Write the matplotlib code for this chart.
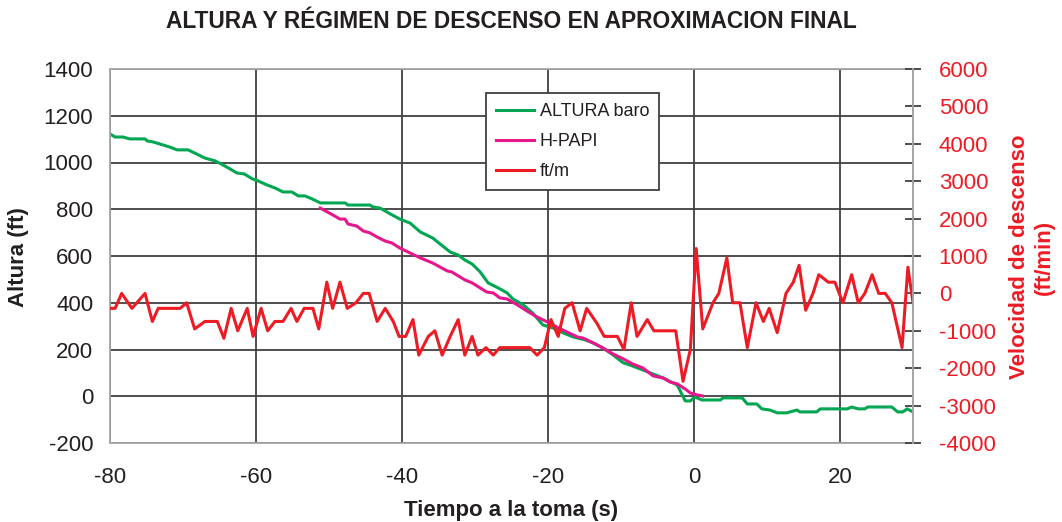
import matplotlib.pyplot as plt

# ALTURA baro (ft)
tiempo_alt = [-80, -79.3, -78.2, -77.3, -75.2, -74.9, -74.1, -71.8, -70.8, -69.3,
              -68.1, -67.0, -65.6, -64.8, -63.8, -62.6, -61.6, -60.5, -59.7, -58.5,
              -57.4, -56.3, -55.1, -54.2, -53.3, -52.3, -51.2, -47.8, -47.4, -44.4,
              -44.0, -43.0, -41.6, -40.3, -38.9, -37.5, -35.8, -33.4, -32.3, -31.4,
              -30.4, -29.3, -28.2, -26.8, -25.6, -24.8, -23.4, -22.1, -20.7, -19.3,
              -17.9, -16.6, -14.9, -13.8, -12.5, -11.1, -9.7, -8.8, -7.4, -6.0,
              -4.2, -2.3, -1.2, -0.5, 0.1, 1.1, 3.6, 4.0, 6.6, 7.3,
              8.6, 9.3, 10.4, 11.4, 12.7, 14.1, 14.5, 16.8, 17.3, 21.0,
              21.6, 22.5, 23.4, 23.8, 27.1, 27.9, 28.6, 29.2, 30.0]
altura_baro = [1122, 1109, 1109, 1101, 1101, 1092, 1088, 1066, 1054, 1054,
               1036, 1019, 1007, 994, 977, 955, 951, 930, 921, 904,
               891, 874, 874, 857, 857, 844, 827, 827, 818, 818,
               810, 805, 780, 758, 741, 703, 677, 617, 604, 583,
               566, 532, 485, 463, 442, 416, 391, 356, 305, 292,
               271, 254, 241, 228, 207, 177, 143, 134, 117, 100,
               78, 48, -20, -20, -3, -16, -16, -7, -7, -33,
               -33, -54, -59, -71, -71, -59, -67, -67, -54, -54,
               -46, -54, -54, -46, -46, -67, -67, -54, -67]

# H-PAPI (ft)
tiempo_papi = [-51.2, -49.5, -48.5, -47.8, -47.4, -46.2, -45.3, -44.4, -43.4, -42.3,
               -41.4, -40.3, -38.9, -37.5, -35.8, -33.8, -33.2, -31.4, -30.4, -28.4,
               -27.5, -26.6, -25.6, -24.2, -22.9, -21.5, -20.1, -18.8, -17.4, -16.0,
               -15.2, -13.8, -12.5, -11.1, -9.7, -8.4, -7.0, -5.6, -4.2, -3.3,
               -2.3, -1.2, -0.5, 0.4, 1.2]
h_papi = [805, 776, 758, 758, 737, 728, 707, 699, 681, 664,
          656, 634, 613, 592, 570, 536, 532, 498, 485, 446,
          442, 421, 416, 391, 365, 339, 318, 296, 275, 254,
          249, 228, 207, 181, 160, 138, 121, 87, 78, 61,
          53, 31, 14, 6, 1]

# ft/m (velocidad de descenso)
tiempo_vs = [-80, -79.3, -78.4, -77.0, -75.2, -74.2, -73.4, -70.4, -69.5, -68.4,
             -67.0, -65.3, -64.4, -63.4, -62.5, -61.2, -60.4, -59.3, -58.4, -57.4,
             -56.3, -55.2, -54.4, -53.4, -52.2, -51.4, -50.3, -49.5, -48.5, -47.5,
             -46.3, -45.3, -44.5, -43.4, -42.3, -41.2, -40.4, -39.5, -38.5, -37.7,
             -36.4, -35.5, -34.5, -33.4, -32.3, -31.4, -30.4, -29.6, -28.5, -27.5,
             -26.6, -22.5, -21.5, -20.5, -19.6, -18.6, -17.7, -16.7, -15.6, -14.7,
             -13.3, -12.3, -10.5, -9.6, -8.6, -7.8, -6.4, -5.5, -2.5, -1.5,
             -0.5, 0.3, 1.2, 2.6, 3.4, 4.5, 5.3, 6.3, 7.3, 8.5,
             9.5, 10.3, 11.4, 12.6, 13.6, 14.4, 15.3, 16.3, 17.1, 18.4,
             19.3, 20.4, 21.6, 22.5, 23.4, 24.4, 25.3, 26.2, 27.1, 28.5,
             29.3, 30.0]
vel_descenso = [-400, -400, 0, -400, 0, -750, -400, -400, -250, -950,
                -750, -750, -1200, -400, -1000, -400, -1150, -400, -1000, -750,
                -750, -400, -750, -400, -400, -950, 300, -400, 300, -400,
                -250, 0, 0, -750, -400, -750, -1150, -1150, -700, -1650,
                -1150, -1000, -1650, -1150, -700, -1650, -1150, -1650, -1450, -1650,
                -1450, -1450, -1650, -1450, -700, -1150, -400, -250, -1000, -400,
                -800, -1150, -1150, -1500, -250, -1150, -700, -1000, -1000, -2350,
                -1500, 1200, -950, -250, 0, 950, -250, -250, -1450, -250,
                -750, -400, -1050, 0, 300, 750, -450, 0, 500, 300,
                300, -250, 500, -250, 0, 500, 0, 0, -250, -1450,
                700, -250]

verde = '#00a651'
rosa = '#e6168c'
rojo = '#ed1c24'
gris = '#a6a6a6'
oscuro = '#404040'
texto = '#231f20'

plt.rcParams['font.family'] = ['Liberation Sans', 'DejaVu Sans']
plt.rcParams['axes.unicode_minus'] = False

fig = plt.figure(figsize=(10.62, 5.22), dpi=100)
ax = fig.add_axes([110 / 1062, 1 - 443 / 522, 803 / 1062, 374 / 522])
ax2 = ax.twinx()

l1, = ax.plot(tiempo_alt, altura_baro, color=verde, lw=2.2, label='ALTURA baro')
l2, = ax.plot(tiempo_papi, h_papi, color=rosa, lw=2.2, label='H-PAPI')
l3, = ax2.plot(tiempo_vs, vel_descenso, color=rojo, lw=2.2, label='ft/m')

ax.set_xlim(-80, 30)
ax.set_ylim(-200, 1400)
ax2.set_ylim(-4000, 6000)
ax.set_xticks(range(-80, 21, 20))
ax.set_yticks(range(-200, 1401, 200))
ax2.set_yticks(range(-4000, 6001, 1000))

ax.grid(True, color=oscuro, lw=1.3)
ax.set_axisbelow(True)

for s in ax.spines.values():
    s.set_color(gris)
    s.set_linewidth(1.3)
for s in ax2.spines.values():
    s.set_visible(False)
ax2.spines['right'].set_visible(True)
ax2.spines['right'].set_color(gris)
ax2.spines['right'].set_linewidth(1.3)

ax.tick_params(axis='y', length=0, pad=12, labelsize=16, labelcolor=texto)
ax.tick_params(axis='x', length=0, pad=17, labelsize=16, labelcolor=texto)
ax2.tick_params(axis='y', direction='inout', length=12, width=1.3, color=oscuro,
                pad=12.5, labelsize=16, labelcolor=rojo)

ax.set_xlabel('Tiempo a la toma (s)', fontsize=16, fontweight='bold', color=texto, labelpad=9)
fig.text(19 / 1062, 1 - 257 / 522, 'Altura (ft)', rotation=90, ha='center', va='center',
         fontsize=16, fontweight='bold', color=texto)
fig.text(1032 / 1062, 1 - 257 / 522, 'Velocidad de descenso\n(ft/min)', rotation=90,
         ha='center', va='center', multialignment='center',
         fontsize=16, fontweight='bold', color=rojo)
fig.text(511 / 1062, 1 - 22 / 522, 'ALTURA Y RÉGIMEN DE DESCENSO EN APROXIMACION FINAL',
         ha='center', va='center', fontsize=16.4, fontweight='bold', color=texto)

leg = ax2.legend(handles=[l1, l2, l3], loc='upper left', bbox_to_anchor=(0.468, 0.936),
                 borderaxespad=0, fontsize=13, fancybox=False, framealpha=1,
                 handlelength=2.1, handletextpad=0.35, labelspacing=0.72, borderpad=0.55)
leg.get_frame().set_edgecolor(oscuro)
leg.get_frame().set_linewidth(1.3)
for t in leg.get_texts():
    t.set_color(texto)

fig.savefig('out.png', dpi=100)
